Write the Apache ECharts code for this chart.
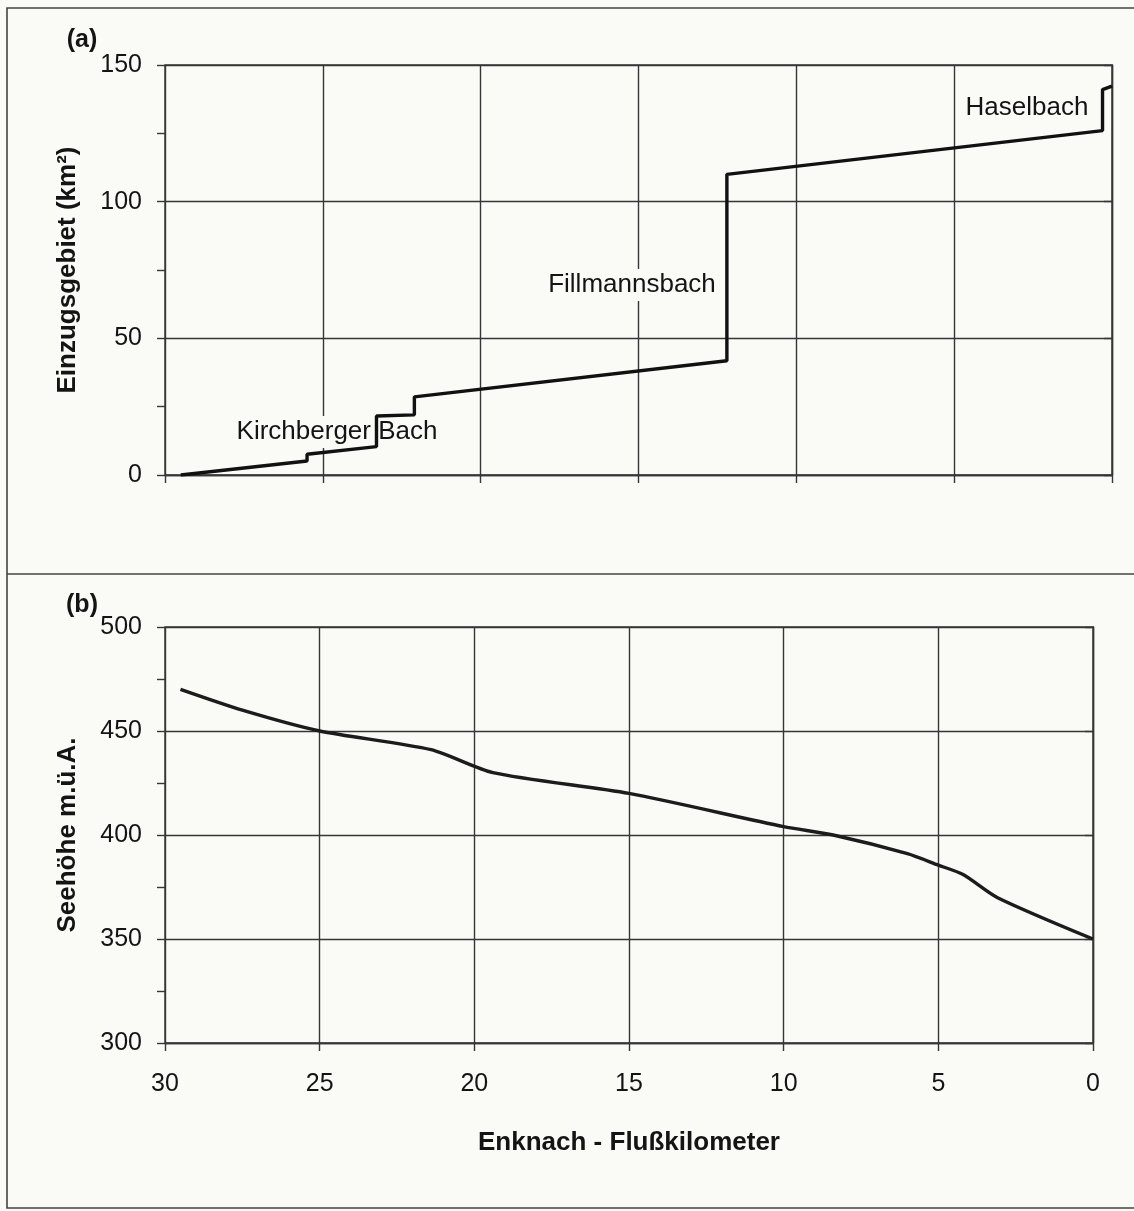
<!DOCTYPE html>
<html>
<head>
<meta charset="utf-8">
<script src="https://cdn.jsdelivr.net/npm/echarts@6/dist/echarts.min.js"></script>
<style>
  html, body { margin: 0; padding: 0; background: #fafaf6; }
  #chart { width: 1134px; height: 1211px; }
</style>
</head>
<body>
<div id="chart"></div>
<script>
// (a) cumulative catchment area along the Enknach (steps at tributary mouths)
const kmArea   = [29.5, 25.5, 25.5, 23.3, 23.3, 22.1, 22.1, 12.2, 12.2, 0.3, 0.3, 0];
const areaKm2  = [0, 5.1, 7.6, 10.4, 21.6, 22.0, 28.6, 41.8, 110.0, 126.0, 141.0, 142.3];

// (b) longitudinal profile, elevation above sea level
const kmElev    = [29.5, 27.5, 25, 21.4, 19.4, 15, 10, 8.4, 6, 5, 4.2, 3.1, 0];
const elevation = [470, 460, 450, 441, 430, 420, 404, 400, 391, 385.5, 381, 370, 350];

// tributary names written next to their confluence steps
const tributaries = ['Kirchberger Bach', 'Fillmannsbach', 'Haselbach'];
const panelTags = ['(a)', '(b)'];

const FONT = "'Liberation Sans', Arial, sans-serif";
const INK = '#141414';
const GRIDC = '#363636';
const BG = '#fafaf6';

function pairs(xs, ys) { return xs.map((x, i) => [x, ys[i]]); }

function xAxisCfg(gridIndex, showLabels) {
  return {
    type: 'value', gridIndex, min: 0, max: 30, interval: 5, inverse: true,
    axisLine: { show: true, lineStyle: { color: GRIDC, width: 1.4 } },
    axisTick: { show: true, length: 8, lineStyle: { color: GRIDC, width: 1.4 } },
    axisLabel: { show: showLabels, margin: 29, color: INK, fontSize: 25, fontFamily: FONT },
    splitLine: { show: true, lineStyle: { color: GRIDC, width: 1.4 } },
    name: showLabels ? 'Enknach - Flußkilometer' : '',
    nameLocation: 'middle', nameGap: 87,
    nameTextStyle: { color: INK, fontSize: 26, fontWeight: 'bold', fontFamily: FONT }
  };
}

// main value axis: gridlines and labels every 50
function yAxisCfg(gridIndex, min, max, title) {
  return {
    type: 'value', gridIndex, min, max, interval: 50, position: 'left',
    axisLine: { show: true, lineStyle: { color: GRIDC, width: 1.4 } },
    axisTick: { show: true, length: 8, lineStyle: { color: GRIDC, width: 1.4 } },
    axisLabel: { margin: 23, color: INK, fontSize: 25, fontFamily: FONT },
    splitLine: { show: true, lineStyle: { color: GRIDC, width: 1.4 } },
    name: title, nameLocation: 'middle', nameGap: 84, nameRotate: 90,
    nameTextStyle: { color: INK, fontSize: 26, fontWeight: 'bold', fontFamily: FONT }
  };
}

// companion axis carrying only the intermediate tick marks every 25
function yTickAxisCfg(gridIndex, min, max) {
  return {
    type: 'value', gridIndex, min, max, interval: 25, position: 'left',
    axisLine: { show: false },
    axisTick: { show: true, length: 8, lineStyle: { color: GRIDC, width: 1.4 } },
    axisLabel: { show: false },
    splitLine: { show: false }
  };
}

function note(text, x, y) {
  return {
    type: 'text', z: 1,
    style: {
      text, x, y, align: 'center', verticalAlign: 'middle',
      font: '26px ' + FONT, fill: INK,
      backgroundColor: BG, padding: [3, 2, 3, 2]
    }
  };
}

const chart = echarts.init(document.getElementById('chart'), null, { renderer: 'canvas' });

chart.setOption({
  backgroundColor: BG,
  animation: false,
  grid: [
    { left: 165, top: 65, width: 947, height: 410, show: true, borderColor: GRIDC, borderWidth: 1.4, backgroundColor: 'transparent' },
    { left: 165, top: 627, width: 928, height: 416, show: true, borderColor: GRIDC, borderWidth: 1.4, backgroundColor: 'transparent' }
  ],
  xAxis: [xAxisCfg(0, false), xAxisCfg(1, true)],
  yAxis: [
    yAxisCfg(0, 0, 150, 'Einzugsgebiet (km²)'),
    yAxisCfg(1, 300, 500, 'Seehöhe m.ü.A.'),
    yTickAxisCfg(0, 0, 150),
    yTickAxisCfg(1, 300, 500)
  ],
  series: [
    {
      type: 'line', xAxisIndex: 0, yAxisIndex: 0, z: 3,
      data: pairs(kmArea, areaKm2),
      showSymbol: false,
      lineStyle: { color: '#111', width: 3.4 }
    },
    {
      type: 'line', xAxisIndex: 1, yAxisIndex: 1, z: 3,
      data: pairs(kmElev, elevation),
      showSymbol: false, smooth: 0.25,
      lineStyle: { color: '#1c1c1c', width: 3.4 }
    }
  ],
  graphic: [
    // outer frame and panel divider
    { type: 'rect', z: 0, shape: { x: 7, y: 8, width: 1140, height: 1200 },
      style: { fill: 'none', stroke: '#444', lineWidth: 1.6 } },
    { type: 'line', z: 0, shape: { x1: 7, y1: 574, x2: 1134, y2: 574 },
      style: { stroke: '#444', lineWidth: 1.6 } },
    // panel tags
    { type: 'text', z: 1, style: { text: panelTags[0], x: 82, y: 40, align: 'center', verticalAlign: 'middle',
      font: 'bold 25px ' + FONT, fill: INK } },
    { type: 'text', z: 1, style: { text: panelTags[1], x: 82, y: 605, align: 'center', verticalAlign: 'middle',
      font: 'bold 25px ' + FONT, fill: INK } },
    // tributary annotations
    note(tributaries[0], 337, 432),
    note(tributaries[1], 632, 285),
    note(tributaries[2], 1027, 108)
  ]
});
</script>
</body>
</html>
